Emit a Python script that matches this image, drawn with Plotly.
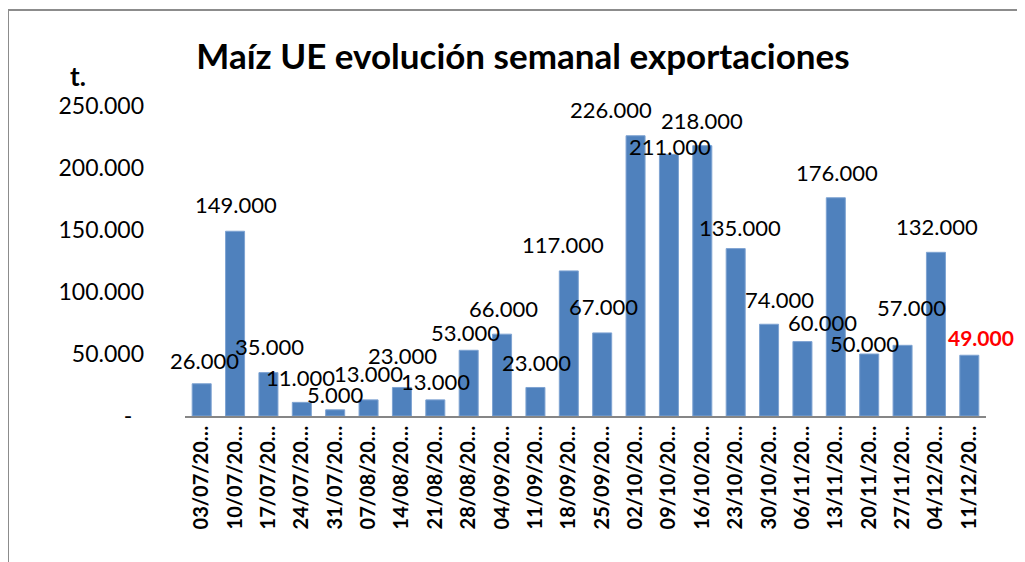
import plotly.graph_objects as go

# ---- data ----
categories = ["03/07/20…", "10/07/20…", "17/07/20…", "24/07/20…", "31/07/20…",
              "07/08/20…", "14/08/20…", "21/08/20…", "28/08/20…", "04/09/20…",
              "11/09/20…", "18/09/20…", "25/09/20…", "02/10/20…", "09/10/20…",
              "16/10/20…", "23/10/20…", "30/10/20…", "06/11/20…", "13/11/20…",
              "20/11/20…", "27/11/20…", "04/12/20…", "11/12/20…"]
values = [26000, 149000, 35000, 11000, 5000, 13000, 23000, 13000, 53000, 66000,
          23000, 117000, 67000, 226000, 211000, 218000, 135000, 74000, 60000,
          176000, 50000, 57000, 132000, 49000]
ytick_vals = [0, 50000, 100000, 150000, 200000, 250000]
ytick_text = ["-\u00a0\u00a0", "50.000", "100.000", "150.000", "200.000", "250.000"]

# label nudges (pixels) reproducing the hand-placed data labels
label_dx = [3, 1, 1, -1, 0, 0, 1, 0, -3, 1, 1, -6, 1, -25, 1, 0, 4, 10, 20, 1, -5, 9, 1, 12]
label_dy = [23, 27, 26, 25, 15, 26, 32, 18, 18, 26, 25, 26, 26, 26, 8, 25, 21, 25, 19, 25, 11, 38, 26, 18]

# page body has an 8px margin: work in figure coords = screen - 8
OFF = 8
W, H = 1025 - OFF, 562 - OFF
ML, MT = 185 - OFF, 106 - OFF
PW, PH = 801, 310
MR, MB = W - ML - PW, H - MT - PH


def px_x(px):
    return (px - OFF - ML) / PW


def px_y(py):
    return (MT + PH - (py - OFF)) / PH


def fmt(v):
    return f"{v:,}".replace(",", ".")


fig = go.Figure()
fig.add_trace(go.Bar(
    x=categories, y=values,
    marker=dict(color="#4F81BD", line=dict(color="#7EA3D2", width=1)),
    hoverinfo="x+y",
))

annotations = []
for i, (c, v) in enumerate(zip(categories, values)):
    last = i == len(values) - 1
    annotations.append(dict(
        x=c, y=v, xref="x", yref="y", text=fmt(v), showarrow=False,
        yanchor="middle", xanchor="center", xshift=label_dx[i], yshift=label_dy[i],
        font=dict(family="Lato", size=21 if last else 22,
                  color="#FF0000" if last else "#000000",
                  weight="bold" if last else "normal"),
    ))

annotations.append(dict(
    x=px_x(78), y=px_y(76), xref="paper", yref="paper", text="<b>t.</b>",
    showarrow=False, xanchor="center", yanchor="middle",
    font=dict(family="Lato", size=26, color="#000000"),
))

fig.update_layout(
    width=W, height=H,
    margin=dict(l=ML, r=MR, t=MT, b=MB),
    paper_bgcolor="white", plot_bgcolor="white",
    title=dict(text="<b>Maíz UE evolución semanal exportaciones</b>",
               x=(523 - OFF) / W, xref="container", xanchor="center",
               y=1 - (57 - OFF) / H, yref="container", yanchor="middle",
               font=dict(family="Lato", size=35, color="#000000")),
    bargap=0.43,
    showlegend=False,
    annotations=annotations,
    xaxis=dict(
        type="category", tickangle=-90, showgrid=False,
        range=[-0.5, len(categories) - 0.5], autorange=False,
        showline=True, linecolor="#868686", linewidth=1.5,
        ticks="", tickfont=dict(family="Lato", size=20, color="#000000", weight="bold"),
    ),
    yaxis=dict(
        range=[0, 250000], autorange=False, tickvals=ytick_vals, ticktext=ytick_text,
        showgrid=False, showline=False, zeroline=False, ticks="",
        ticklabelstandoff=40,
        tickfont=dict(family="Lato", size=23, color="#000000"),
    ),
    shapes=[
        dict(type="line", xref="paper", yref="paper",
             x0=px_x(8), x1=px_x(1030), y0=px_y(10), y1=px_y(10),
             line=dict(color="#8C8C8C", width=2)),
        dict(type="line", xref="paper", yref="paper",
             x0=px_x(8), x1=px_x(8), y0=px_y(10), y1=px_y(570),
             line=dict(color="#8C8C8C", width=2)),
    ],
)

fig.write_html("out.html")
